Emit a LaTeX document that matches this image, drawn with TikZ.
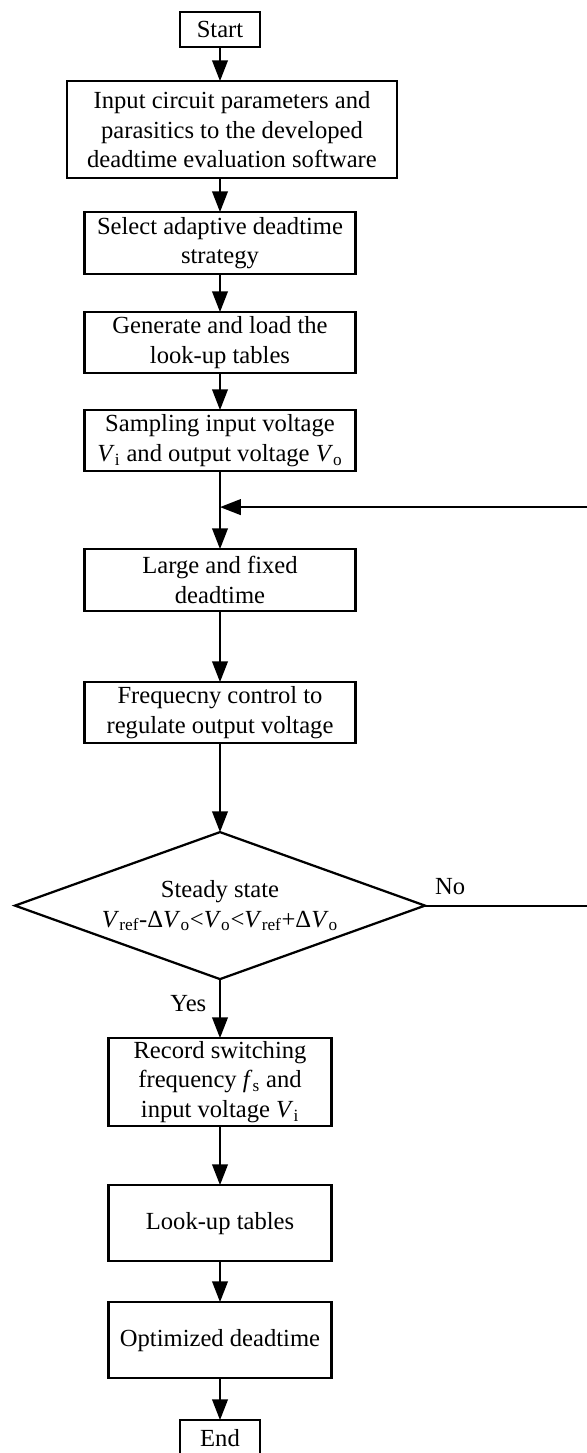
\documentclass[tikz,border=0pt]{standalone}
\usepackage{fontspec}
\setmainfont{Liberation Serif}
\usetikzlibrary{arrows.meta,positioning,shapes.geometric}

\newcommand{\vsub}[2]{\textit{#1}\textsubscript{#2}}

\begin{document}
\begin{tikzpicture}[
    >={Triangle[length=5.2mm,width=3.9mm]},
    flow/.style={->,line width=1.5pt,draw=black},
    process/.style={draw=black,line width=1.6pt,align=center,inner sep=1pt,
      outer sep=0pt,minimum width=6.775cm,minimum height=1.55cm,
      font=\fontsize{17.5}{21.3}\selectfont},
    terminal/.style={process,minimum width=2cm,minimum height=0.875cm},
    decision/.style={diamond,draw=black,line width=1.6pt,align=center,
      aspect=2.79,inner sep=0pt,outer sep=0pt,minimum width=10.25cm,
      minimum height=3.675cm,font=\fontsize{17.5}{21.3}\selectfont},
    answer/.style={font=\fontsize{17.5}{21.3}\selectfont}
  ]
    \useasboundingbox (0,0) rectangle (14.675,-36.325);

    % Setup steps.
    \node[terminal] (start) at (5.5,-0.74) {Start};
    \node[process,minimum width=8.25cm,minimum height=2.425cm,
      below=0.85cm of start,xshift=0.3cm] (input)
      {Input circuit parameters and\\parasitics to the developed\\
      deadtime evaluation software};
    \node[process,below=0.85cm of input,xshift=-0.3cm] (select)
      {Select adaptive deadtime\\strategy};
    \node[process,minimum height=1.525cm,below=0.95cm of select] (generate)
      {Generate and load the\\look-up tables};
    \node[process,minimum height=1.525cm,below=0.925cm of generate] (sampling)
      {Sampling input voltage\\\vsub{V}{i} and output voltage \vsub{V}{o}};

    % Control loop.
    \node[process,below=1.95cm of sampling] (large) {Large and fixed\\deadtime};
    \node[process,minimum height=1.525cm,below=1.775cm of large] (freq)
      {Frequecny control to\\regulate output voltage};
    \node[decision,below=2.225cm of freq] (steady) {Steady state\\
      \vsub{V}{ref}-Δ\vsub{V}{o}<\vsub{V}{o}<\vsub{V}{ref}+Δ\vsub{V}{o}};

    % Table generation.
    \node[process,minimum width=5.575cm,minimum height=2.2cm,
      below=1.475cm of steady] (record)
      {Record switching\\frequency \vsub{f}{s} and\\input voltage \vsub{V}{i}};
    \node[process,minimum width=5.575cm,minimum height=1.9cm,
      below=1.475cm of record] (lookup) {Look-up tables};
    \node[process,minimum width=5.575cm,minimum height=1.9cm,
      below=1.025cm of lookup] (optimum) {Optimized deadtime};
    \node[terminal,below=1.05cm of optimum] (end) {End};

    \coordinate[below=0.9cm of sampling] (join);
    \coordinate (loop) at (15.2,0);

    \draw[flow] (start) -- (start |- input.north);
    \draw[flow] (input.south -| select) -- (select);
    \draw[flow] (select) -- (generate);
    \draw[flow] (generate) -- (sampling);
    \draw[flow] (sampling) -- (large);
    \draw[flow] (large) -- (freq);
    \draw[flow] (freq) -- (steady);
    \draw[flow] (steady) -- node[answer,left=0.2cm,pos=0.42] {Yes} (record);
    \draw[flow] (record) -- (lookup);
    \draw[flow] (lookup) -- (optimum);
    \draw[flow] (optimum) -- (end);
    \draw[flow] (steady.east) -- node[answer,above=0.12cm,pos=0.137] {No}
      (steady.east -| loop) |- (join);
  \end{tikzpicture}
\end{document}
